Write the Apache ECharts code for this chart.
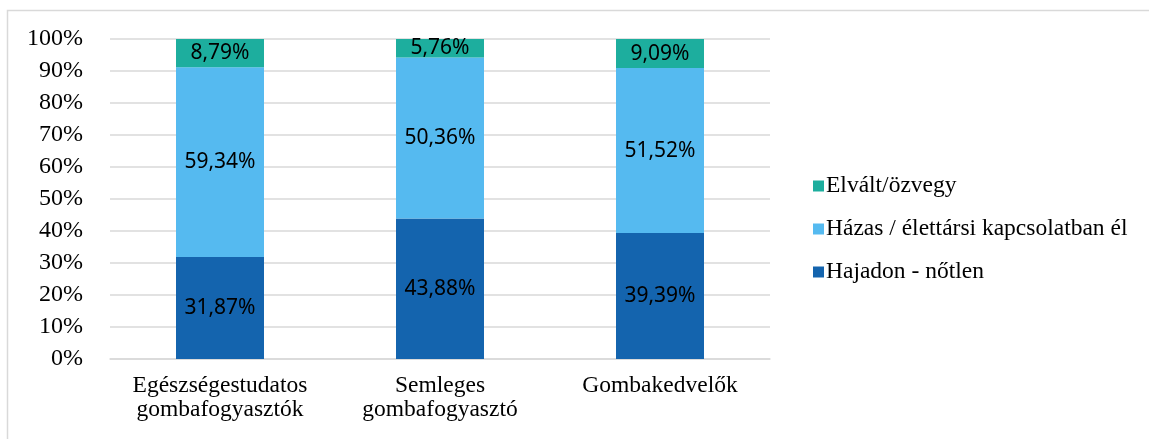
<!DOCTYPE html>
<html>
<head>
<meta charset="utf-8">
<script src="https://cdn.jsdelivr.net/npm/echarts@6/dist/echarts.min.js"></script>
<style>
  html, body { margin: 0; padding: 0; background: #fff; }
  #chart { width: 1149px; height: 439px; }
</style>
</head>
<body>
<div id="chart"></div>
<script>
// kategóriák és értékek (%)
var categories = ['Egészségestudatos\ngombafogyasztók', 'Semleges\ngombafogyasztó', 'Gombakedvelők'];
var hajadon = [31.87, 43.88, 39.39];
var hazas = [59.34, 50.36, 51.52];
var elvalt = [8.79, 5.76, 9.09];
var seriesNames = ['Hajadon - nőtlen', 'Házas / élettársi kapcsolatban él', 'Elvált/özvegy'];

var chart = echarts.init(document.getElementById('chart'));

function fmt(p) {
  return p.value.toFixed(2).replace('.', ',') + '%';
}

var labelStyle = {
  show: true,
  position: 'inside',
  formatter: fmt,
  color: '#000',
  fontFamily: 'Noto Sans',
  fontSize: 21
};

var option = {
  animation: false,
  graphic: [{
    type: 'polyline',
    shape: { points: [[7.5, 439], [7.5, 10.5], [1149, 10.5]] },
    style: { stroke: '#d9d9d9', lineWidth: 1.5, fill: null },
    silent: true
  }],
  grid: { left: 110, right: 379, top: 39, bottom: 80 },
  legend: {
    orient: 'vertical',
    left: 808,
    top: 169,
    icon: 'rect',
    itemWidth: 11,
    itemHeight: 11,
    itemGap: 19,
    data: [seriesNames[2], seriesNames[1], seriesNames[0]],
    textStyle: { fontFamily: 'Liberation Serif', fontSize: 23.5, color: '#000', padding: [0, 0, 0, -3] }
  },
  xAxis: {
    type: 'category',
    data: categories,
    axisTick: { show: false },
    axisLine: { lineStyle: { color: '#d9d9d9', width: 1.5 } },
    axisLabel: {
      interval: 0,
      color: '#000',
      fontFamily: 'Liberation Serif',
      fontSize: 23.5,
      lineHeight: 24,
      margin: 15
    }
  },
  yAxis: {
    type: 'value',
    min: 0,
    max: 100,
    interval: 10,
    axisLine: { show: false },
    axisTick: { show: false },
    splitLine: { lineStyle: { color: '#d9d9d9', width: 1.5 } },
    axisLabel: {
      formatter: '{value}%',
      color: '#000',
      fontFamily: 'Liberation Serif',
      fontSize: 24,
      margin: 27
    }
  },
  series: [
    { name: seriesNames[0], type: 'bar', stack: 'all', data: hajadon, barWidth: 88,
      itemStyle: { color: '#1464AE' }, label: labelStyle },
    { name: seriesNames[1], type: 'bar', stack: 'all', data: hazas, barWidth: 88,
      itemStyle: { color: '#55BAF0' }, label: labelStyle },
    { name: seriesNames[2], type: 'bar', stack: 'all', data: elvalt, barWidth: 88,
      itemStyle: { color: '#1DAE9E' }, label: labelStyle }
  ]
};

chart.setOption(option);
</script>
</body>
</html>
